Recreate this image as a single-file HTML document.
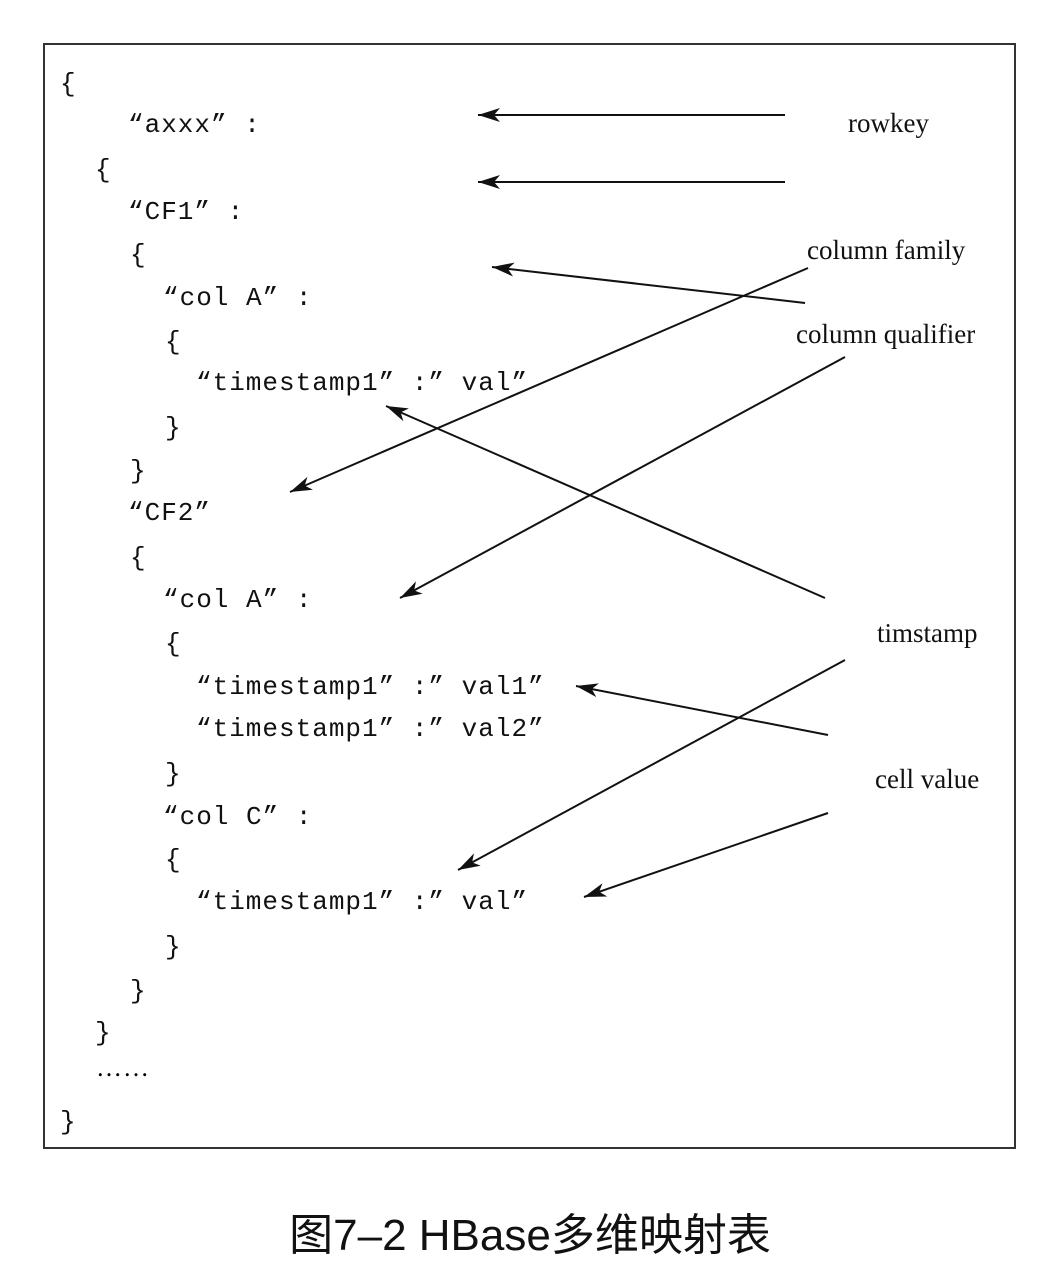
<!DOCTYPE html>
<html><head><meta charset="utf-8"><style>
html,body{margin:0;padding:0;background:#fff;}
svg{display:block;}
.m{font-family:"Liberation Mono",monospace;font-size:26px;fill:#111;letter-spacing:1px;}
.s{font-family:"Liberation Serif",serif;font-size:27px;fill:#111;}
.c{font-family:"Liberation Sans","Noto Sans CJK SC",sans-serif;font-size:44px;fill:#111;}
</style></head><body>
<svg width="1060" height="1278" viewBox="0 0 1060 1278" xmlns="http://www.w3.org/2000/svg">
<defs><marker id="a" markerWidth="22" markerHeight="14" refX="22" refY="7" orient="auto" markerUnits="userSpaceOnUse" viewBox="0 0 22 14"><path d="M0,0 L22,7 L0,14 L6,7 Z" fill="#111"/></marker></defs>
<rect x="44" y="44" width="971" height="1104" fill="none" stroke="#333" stroke-width="2"/>
<g class="m">
<text x="60" y="91">{</text>
<text x="128" y="132">“axxx” :</text>
<text x="95" y="177">{</text>
<text x="128" y="219">“CF1” :</text>
<text x="130" y="262">{</text>
<text x="163" y="305">“col A” :</text>
<text x="165" y="349">{</text>
<text x="196" y="390">“timestamp1” :” val”</text>
<text x="165" y="435">}</text>
<text x="130" y="478">}</text>
<text x="128" y="520">“CF2”</text>
<text x="130" y="565">{</text>
<text x="163" y="607">“col A” :</text>
<text x="165" y="651">{</text>
<text x="196" y="694">“timestamp1” :” val1”</text>
<text x="196" y="736">“timestamp1” :” val2”</text>
<text x="165" y="781">}</text>
<text x="163" y="824">“col C” :</text>
<text x="165" y="867">{</text>
<text x="196" y="909">“timestamp1” :” val”</text>
<text x="165" y="954">}</text>
<text x="130" y="998">}</text>
<text x="95" y="1040">}</text>
<text x="60" y="1129">}</text>
</g>
<text x="96" y="1076" style="font-family:'Liberation Serif',serif;font-size:26px;letter-spacing:1px">……</text>
<g class="s">
<text x="848" y="132">rowkey</text>
<text x="807" y="259">column family</text>
<text x="796" y="343">column qualifier</text>
<text x="877" y="642">timstamp</text>
<text x="875" y="788">cell value</text>
</g>
<g stroke="#111" stroke-width="2" fill="none">
<path d="M785,115 L478,115" marker-end="url(#a)"/>
<path d="M785,182 L478,182" marker-end="url(#a)"/>
<path d="M805,303 L492,267" marker-end="url(#a)"/>
<path d="M808,268 L290,492" marker-end="url(#a)"/>
<path d="M845,357 L400,598" marker-end="url(#a)"/>
<path d="M825,598 L386,406" marker-end="url(#a)"/>
<path d="M845,660 L458,870" marker-end="url(#a)"/>
<path d="M828,735 L576,686" marker-end="url(#a)"/>
<path d="M828,813 L584,897" marker-end="url(#a)"/>
</g>
<text class="c" x="530" y="1250" text-anchor="middle">图7–2 HBase多维映射表</text>
</svg>
</body></html>
